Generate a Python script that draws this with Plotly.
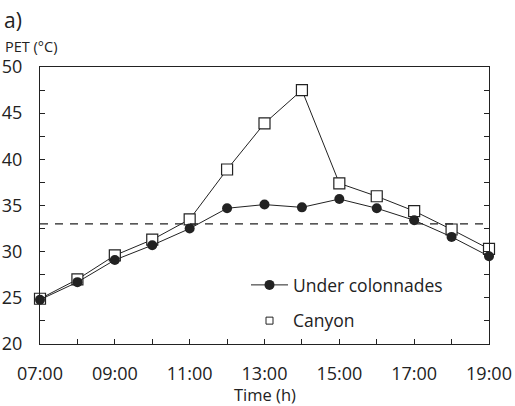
import plotly.graph_objects as go

hours = [7, 8, 9, 10, 11, 12, 13, 14, 15, 16, 17, 18, 19]
tick_vals = [7, 9, 11, 13, 15, 17, 19]
tick_labels = ["07:00", "09:00", "11:00", "13:00", "15:00", "17:00", "19:00"]
under_colonnades = [24.8, 26.7, 29.1, 30.7, 32.5, 34.7, 35.1, 34.8, 35.7, 34.7, 33.4, 31.6, 29.5]
canyon = [24.9, 27.0, 29.6, 31.3, 33.5, 38.9, 43.9, 47.5, 37.4, 36.0, 34.4, 32.4, 30.3]
threshold = 33

FONT = "Open Sans"
INK = "#222222"
FS = 18

# target page-pixel geometry of the plot area
PX_L, PX_R, PX_T, PX_B = 40, 489, 67, 344
W, H = 515, 406


def py(page_y):
    return (PX_B - page_y) / (PX_B - PX_T)


def px(page_x):
    return (page_x - PX_L) / (PX_R - PX_L)


fig = go.Figure()
fig.add_trace(go.Scatter(
    x=hours, y=canyon, mode="lines+markers", showlegend=False,
    line=dict(color=INK, width=1),
    marker=dict(symbol="square", size=11, color="white", line=dict(color=INK, width=1.2)),
))
fig.add_trace(go.Scatter(
    x=hours, y=under_colonnades, mode="lines+markers", showlegend=False,
    line=dict(color=INK, width=1),
    marker=dict(symbol="circle", size=10, color=INK, line=dict(color=INK, width=0)),
))
# legend entries
fig.add_trace(go.Scatter(
    x=[None], y=[None], mode="lines+markers", name="Under colonnades",
    legendgroup="a",
    line=dict(color=INK, width=1),
    marker=dict(symbol="circle", size=10, color=INK),
))
fig.add_trace(go.Scatter(
    x=[None], y=[None], mode="markers", name="Canyon",
    legendgroup="b",
    marker=dict(symbol="square", size=7, color="white", line=dict(color=INK, width=1)),
))

fig.add_shape(type="line", xref="paper", yref="y", x0=0, x1=1, y0=threshold, y1=threshold,
              line=dict(color=INK, width=1.2, dash="8px,7px"))

fig.update_layout(
    width=W, height=H,
    margin=dict(l=PX_L, r=W - PX_R, t=PX_T, b=H - PX_B, autoexpand=False),
    paper_bgcolor="white", plot_bgcolor="white",
    font=dict(family=FONT, size=FS, color=INK),
    legend=dict(x=px(246), y=py(267), xanchor="left", yanchor="top",
                bgcolor="rgba(0,0,0,0)", font=dict(size=17.5, color=INK),
                traceorder="grouped", tracegroupgap=10, itemwidth=37),
    annotations=[
        dict(text="a)", x=0, y=1, xref="paper", yref="paper", xanchor="left", yanchor="middle",
             showarrow=False, font=dict(size=21, color=INK), xshift=-(PX_L - 2), yshift=PX_T - 20),
        dict(text="PET (°C)", x=0, y=1, xref="paper", yref="paper", xanchor="left", yanchor="middle",
             showarrow=False, font=dict(size=14.5, color=INK), xshift=-(PX_L - 3), yshift=PX_T - 46),
        dict(text="Time (h)", x=0.5, y=0, xref="paper", yref="paper", xanchor="center", yanchor="middle",
             showarrow=False, font=dict(size=16.5, color=INK), yshift=-(394 - PX_B)),
    ],
)
fig.update_xaxes(
    range=[7, 19], tickvals=tick_vals, ticktext=tick_labels, automargin=False,
    showline=True, linecolor=INK, linewidth=1.2, mirror=True,
    ticks="inside", ticklen=5, tickcolor=INK, ticklabelstandoff=13,
    minor=dict(dtick=1, tick0=7, ticks="inside", ticklen=5, tickcolor=INK),
    showgrid=False, zeroline=False, tickfont=dict(size=FS),
)
fig.update_yaxes(
    range=[20, 50], dtick=5, tick0=20, automargin=False,
    showline=True, linecolor=INK, linewidth=1.2, mirror="ticks",
    ticks="inside", ticklen=5, tickcolor=INK, ticklabelstandoff=13,
    minor=dict(dtick=2.5, tick0=20, ticks="inside", ticklen=5, tickcolor=INK),
    showgrid=False, zeroline=False, tickfont=dict(size=FS),
)
fig.update_traces(cliponaxis=False)

# remove the browser's default 8px body margin so the figure fills the window
fig.write_html("out.html", config=dict(displayModeBar=False),
               post_script="document.body.style.margin='0';")
